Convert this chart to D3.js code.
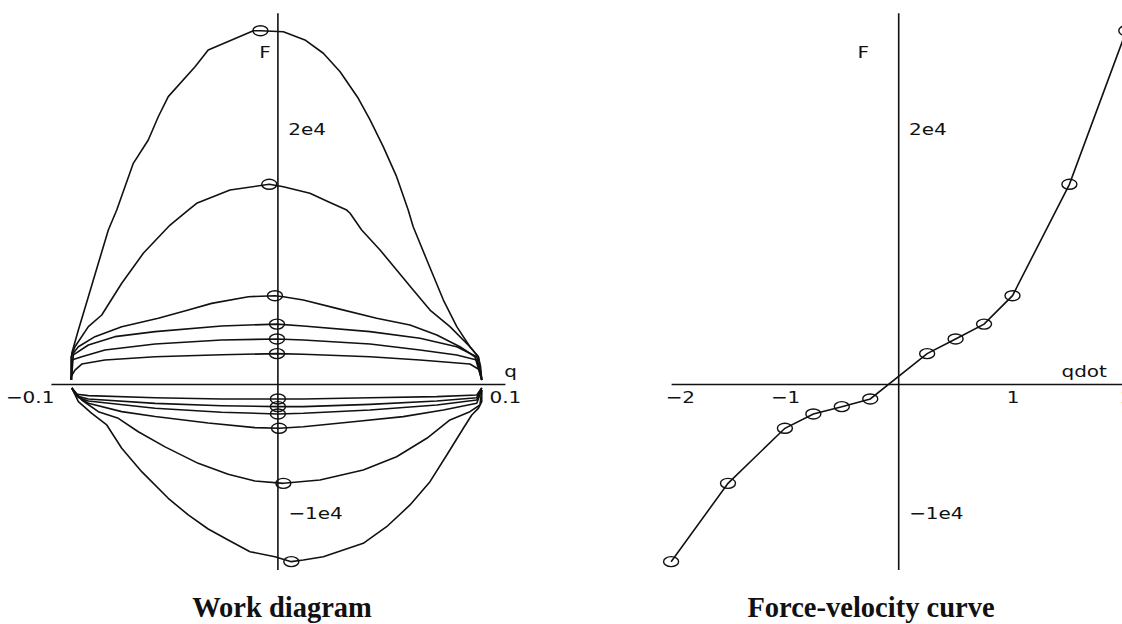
<!DOCTYPE html>
<html>
<head>
<meta charset="utf-8">
<script src="https://cdn.jsdelivr.net/npm/d3@7"></script>
<style>
  body { margin: 0; background: #fff; }
  svg { display: block; }
</style>
</head>
<body>
<svg id="chart" width="1122" height="624"></svg>
<script>
// Peak velocities of the sinusoidal runs and the force measured at each peak
const velocities = [-2, -1.5, -1, -0.75, -0.5, -0.25, 0.25, 0.5, 0.75, 1, 1.5, 2];
const forces = [-13880, -7760, -3460, -2340, -1770, -1170, 2370, 3520, 4680, 6900, 15600, 27600];
// Position q where each run reaches its peak velocity
const peakPositions = [0.0059, 0.0024, 0.0005, 0, 0, 0, -0.0004, -0.0004, -0.0004, -0.0013, -0.0038, -0.0077];

// Work diagram traces, [q, F] pairs, one per run
const runVm2 = [[-0.0908, -310], [-0.0879, -1380], [-0.0820, -2290], [-0.0754, -3200], [-0.0688, -5020], [-0.0600, -6850], [-0.0483, -8930], [-0.0395, -10230], [-0.0307, -11330], [-0.0219, -12190], [-0.0123, -13100], [-0.0013, -13490], [0.0059, -13880], [0.0112, -13750], [0.0200, -13490], [0.0376, -12450], [0.0479, -11150], [0.0582, -9450], [0.0670, -7630], [0.0744, -5550], [0.0817, -3460], [0.0854, -2420], [0.0883, -1900], [0.0898, -1380], [0.0898, -470]];
const runVm15 = [[-0.0908, -310], [-0.0864, -1250], [-0.0791, -2160], [-0.0703, -2680], [-0.0615, -3730], [-0.0497, -4910], [-0.0351, -6200], [-0.0219, -7050], [-0.0101, -7580], [0.0024, -7760], [0.0185, -7500], [0.0376, -6720], [0.0523, -5680], [0.0656, -4240], [0.0758, -2810], [0.0846, -2160], [0.0890, -1640], [0.0898, -470]];
const runVm1 = [[-0.0908, -310], [-0.0872, -1090], [-0.0835, -1510], [-0.0688, -2160], [-0.0541, -2540], [-0.0307, -3050], [-0.0101, -3410], [0.0005, -3460], [0.0112, -3340], [0.0332, -2950], [0.0552, -2550], [0.0729, -2030], [0.0876, -1510], [0.0898, -470]];
const runVm075 = [[-0.0908, -310], [-0.0879, -1050], [-0.0835, -1330], [-0.0541, -1900], [-0.0248, -2210], [0, -2340], [0.0112, -2290], [0.0406, -2030], [0.0700, -1640], [0.0876, -1250], [0.0898, -310]];
const runVm05 = [[-0.0908, -310], [-0.0886, -940], [-0.0835, -1170], [-0.0541, -1510], [-0.0248, -1700], [0, -1770], [0.0112, -1770], [0.0406, -1590], [0.0700, -1330], [0.0876, -1070], [0.0898, -310]];
const runVm025 = [[-0.0908, -310], [-0.0894, -780], [-0.0835, -910], [-0.0541, -1070], [-0.0248, -1170], [0, -1170], [0.0112, -1170], [0.0406, -1070], [0.0700, -990], [0.0876, -860], [0.0898, -310]];
const runV025 = [[-0.0910, 310], [-0.0911, 570], [-0.0894, 1090], [-0.0864, 1560], [-0.0762, 1880], [-0.0541, 2130], [-0.0248, 2290], [-0.0004, 2370], [0.0112, 2320], [0.0406, 2130], [0.0626, 1880], [0.0846, 1560], [0.0890, 1090], [0.0898, 450]];
const runV05 = [[-0.0910, 310], [-0.0908, 1880], [-0.0864, 2130], [-0.0762, 2660], [-0.0541, 3130], [-0.0248, 3440], [-0.0004, 3520], [0.0112, 3440], [0.0406, 3130], [0.0626, 2660], [0.0788, 2270], [0.0876, 1880], [0.0898, 310]];
const runV075 = [[-0.0910, 310], [-0.0901, 2270], [-0.0835, 3050], [-0.0718, 3700], [-0.0541, 4090], [-0.0248, 4530], [-0.0004, 4680], [0.0112, 4530], [0.0406, 4090], [0.0626, 3570], [0.0788, 2910], [0.0876, 2130], [0.0898, 310]];
const runV1 = [[-0.0910, 310], [-0.0908, 2270], [-0.0879, 2910], [-0.0806, 3700], [-0.0688, 4480], [-0.0527, 5130], [-0.0395, 5780], [-0.0292, 6300], [-0.0130, 6820], [-0.0013, 6900], [0.0024, 6820], [0.0112, 6560], [0.0259, 5910], [0.0435, 5130], [0.0582, 4610], [0.0700, 3830], [0.0802, 2910], [0.0868, 2130], [0.0898, 310]];
const runV15 = [[-0.0910, 310], [-0.0911, 2130], [-0.0894, 2910], [-0.0835, 4480], [-0.0776, 5390], [-0.0688, 7870], [-0.0593, 10210], [-0.0475, 12420], [-0.0395, 13590], [-0.0358, 14120], [-0.0211, 15160], [-0.0038, 15600], [0.0024, 15410], [0.0141, 14900], [0.0222, 14240], [0.0303, 13590], [0.0318, 13340], [0.0369, 12030], [0.0450, 10470], [0.0523, 8910], [0.0596, 7340], [0.0670, 5780], [0.0758, 4480], [0.0846, 2910], [0.0883, 2130], [0.0898, 310]];
const runV2 = [[-0.0910, 310], [-0.0908, 2400], [-0.0879, 4220], [-0.0835, 6820], [-0.0791, 9430], [-0.0747, 12030], [-0.0710, 13590], [-0.0637, 17240], [-0.0571, 19060], [-0.0527, 20880], [-0.0483, 22450], [-0.0365, 24790], [-0.0307, 26090], [-0.0108, 27600], [-0.0077, 27600], [0.0024, 27520], [0.0119, 26880], [0.0200, 25840], [0.0274, 24400], [0.0354, 22320], [0.0406, 20630], [0.0464, 18540], [0.0523, 16200], [0.0574, 13590], [0.0596, 12290], [0.0656, 9690], [0.0729, 6560], [0.0788, 4480], [0.0846, 2910], [0.0883, 2130], [0.0893, 1350], [0.0898, 310]];
const workRuns = [runVm2, runVm15, runVm1, runVm075, runVm05, runVm025, runV025, runV05, runV075, runV1, runV15, runV2];

// Axis ticks and labels
const forceTicks = [-1e4, 2e4];
const forceTickLabels = ["\u22121e4", "2e4"];
const qTicks = [-0.1, 0.1];
const qTickLabels = ["\u22120.1", "0.1"];
const qdotTicks = [-2, -1, 1, 2];
const qdotTickLabels = ["\u22122", "\u22121", "1", "2"];
const forceAxisExtent = [-14530, 28960];
const panelTitles = ["Work diagram", "Force-velocity curve"];

const ink = "#111";
const lineWidth = 1.6;
const stretch = 1.25;
const svg = d3.select("#chart");

const yF = d3.scaleLinear().domain([-1e4, 2e4]).range([512, 128]);
const xQ = d3.scaleLinear().domain([-0.1, 0.1]).range([50.9, 504.9]);
const xV = d3.scaleLinear().domain([-2, 2]).range([671.1, 1126.3]);

function styleTickText(sel) {
  sel.selectAll("text")
    .attr("fill", ink)
    .attr("font-family", "DejaVu Sans, sans-serif")
    .attr("font-size", 16)
    .attr("transform", `scale(${stretch},1)`);
}

function drawPanel(xScale, xTicks, xLabels, xName, xNameX, yNameX, firstLabel) {
  const g = svg.append("g");
  // horizontal axis with its tick labels
  const xAxis = d3.axisBottom(xScale)
    .tickValues(xTicks)
    .tickSize(0)
    .tickSizeOuter(0)
    .tickPadding(8)
    .tickFormat((d, i) => xLabels[i]);
  const gx = g.append("g").attr("transform", `translate(0,${yF(0)})`).call(xAxis);
  gx.select(".domain").attr("stroke", ink).attr("stroke-width", lineWidth);
  styleTickText(gx);
  gx.selectAll(".tick text").filter((d, i) => i === 0)
    .attr("text-anchor", firstLabel.anchor)
    .attr("x", firstLabel.dx / stretch);

  // vertical axis line through the origin
  const x0 = xScale(0);
  g.append("line")
    .attr("x1", x0).attr("x2", x0)
    .attr("y1", yF(forceAxisExtent[1])).attr("y2", yF(forceAxisExtent[0]))
    .attr("stroke", ink).attr("stroke-width", lineWidth);

  const yAxis = d3.axisRight(yF)
    .tickValues(forceTicks)
    .tickSize(0)
    .tickPadding(0)
    .tickFormat((d, i) => forceTickLabels[i]);
  const gy = g.append("g").attr("transform", `translate(${x0},0)`).call(yAxis);
  gy.select(".domain").remove();
  styleTickText(gy);
  gy.selectAll(".tick text").attr("x", 10.4 / stretch).attr("dy", "0.42em");

  // axis names
  g.append("text")
    .attr("transform", `translate(${xNameX},377) scale(${stretch},1)`)
    .attr("text-anchor", "middle")
    .attr("font-family", "DejaVu Sans, sans-serif").attr("font-size", 16).attr("fill", ink)
    .text(xName);
  g.append("text")
    .attr("transform", `translate(${yNameX},57.5) scale(${stretch},1)`)
    .attr("text-anchor", "middle")
    .attr("font-family", "DejaVu Sans, sans-serif").attr("font-size", 16).attr("fill", ink)
    .text("F");
  return g;
}

function drawMarkers(g, pts) {
  g.append("g").selectAll("ellipse").data(pts).join("ellipse")
    .attr("cx", d => d[0]).attr("cy", d => d[1])
    .attr("rx", 7.5).attr("ry", 5)
    .attr("fill", "none").attr("stroke", ink).attr("stroke-width", 1.4);
}

// ---- Work diagram ----
const left = drawPanel(xQ, qTicks, qTickLabels, "q", 510.7, 265, { anchor: "end", dx: 3 });
const workLine = d3.line().x(d => xQ(d[0])).y(d => yF(d[1]));
left.append("g").selectAll("path").data(workRuns).join("path")
  .attr("d", workLine)
  .attr("fill", "none").attr("stroke", ink).attr("stroke-width", lineWidth)
  .attr("stroke-linejoin", "round");
drawMarkers(left, velocities.map((v, i) => [xQ(peakPositions[i]), yF(forces[i])]));

// ---- Force-velocity curve ----
const right = drawPanel(xV, qdotTicks, qdotTickLabels, "qdot", 1084.2, 863.3, { anchor: "start", dx: -6 });
const fvLine = d3.line().x(d => xV(d[0])).y(d => yF(d[1]));
right.append("path")
  .attr("d", fvLine(velocities.map((v, i) => [v, forces[i]])))
  .attr("fill", "none").attr("stroke", ink).attr("stroke-width", lineWidth);
drawMarkers(right, velocities.map((v, i) => [xV(v), yF(forces[i])]));

// ---- panel captions ----
svg.selectAll("text.caption").data(panelTitles).join("text")
  .attr("class", "caption")
  .attr("x", (d, i) => i === 0 ? 282 : 871)
  .attr("y", 617)
  .attr("text-anchor", "middle")
  .attr("font-family", "Liberation Serif, Times New Roman, serif")
  .attr("font-weight", "bold")
  .attr("font-size", 28.5)
  .attr("fill", ink)
  .text(d => d);
</script>
</body>
</html>
